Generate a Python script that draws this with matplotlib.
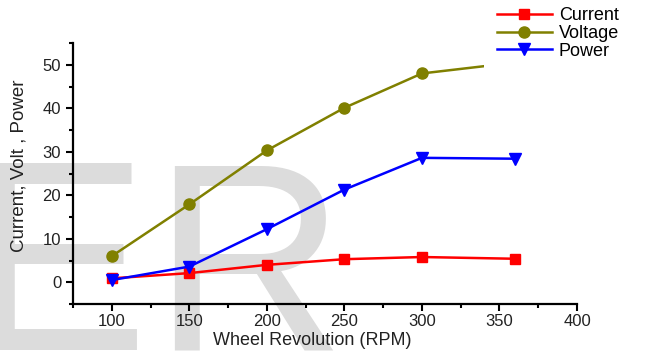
import numpy as np
import matplotlib
matplotlib.use("Agg")
from matplotlib import pyplot as plt

rpm = [100, 150, 200, 250, 300, 360]
current = [0.9, 2.1, 4.0, 5.3, 5.8, 5.4]
voltage = [6.0, 17.9, 30.3, 40.1, 48.0, 50.5]
power = [0.5, 3.6, 12.2, 21.3, 28.6, 28.4]

plt.rcParams["font.family"] = ["Liberation Sans", "DejaVu Sans"]

fig = plt.figure(figsize=(6.47, 3.53), dpi=100)

# big grey watermark behind the plot
fig.text(-33 / 647, 0.0095, "E", fontsize=196, color="#dcdcdc", ha="left", va="baseline", zorder=-1)
fig.text(152 / 647, 0.0095, "R", fontsize=192, color="#dcdcdc", ha="left", va="baseline", zorder=-1)

ax = fig.add_axes([73 / 647, 49 / 353, 504 / 647, 261 / 353])
ax.set_zorder(1)
ax.patch.set_alpha(0)

ax.plot(rpm, current, color="#ff0000", marker="s", ms=7, lw=1.8, label="Current")
ax.plot(rpm, voltage, color="#808000", marker="o", ms=8, lw=1.8, label="Voltage")
ax.plot(rpm, power, color="#0000ff", marker="v", ms=9, lw=1.8, label="Power")

ax.set_xlim(75, 400)
ax.set_ylim(-5, 55)
ax.set_xticks([100, 150, 200, 250, 300, 350, 400])
ax.set_xticks(np.arange(75, 401, 25), minor=True)
ax.set_yticks([0, 10, 20, 30, 40, 50])
ax.set_yticks(np.arange(-5, 56, 5), minor=True)

for s in ["top", "right"]:
    ax.spines[s].set_visible(False)
for s in ["left", "bottom"]:
    ax.spines[s].set_linewidth(1.6)
ax.tick_params(which="major", direction="out", length=5, width=1.5, labelsize=12, colors="black", labelcolor="#222222")
ax.tick_params(axis="x", which="major", pad=2)
ax.tick_params(which="minor", direction="out", length=3, width=1.5)

ax.set_xlabel("Wheel Revolution (RPM)", fontsize=13, color="#222222")
ax.set_ylabel("Current, Volt , Power", fontsize=13.5, color="#222222")
ax.xaxis.set_label_coords(0.474, -0.108)
ax.yaxis.set_label_coords(-0.09, 0.53)

leg = ax.legend(loc="upper left", bbox_to_anchor=(484 / 647, 1.016), bbox_transform=fig.transFigure,
                fontsize=13, handlelength=3.05, handletextpad=0.4, labelspacing=0.05, borderpad=0.7,
                borderaxespad=0, frameon=True, fancybox=False)
leg.get_frame().set_facecolor("white")
leg.get_frame().set_edgecolor("none")
leg.get_frame().set_alpha(1)

fig.savefig("out.png", dpi=100)
